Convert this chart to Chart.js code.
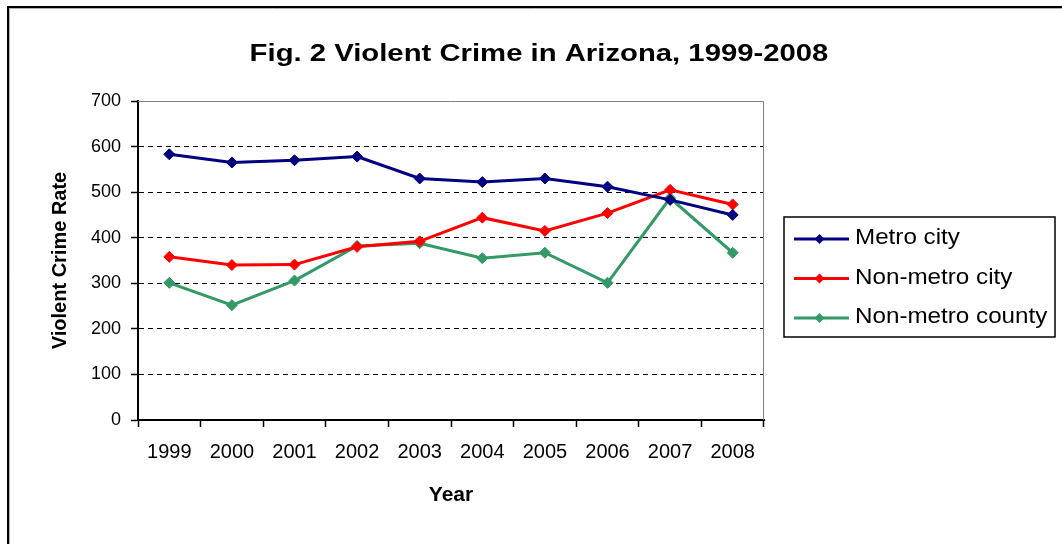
<!DOCTYPE html>
<html>
<head>
<meta charset="utf-8">
<script src="https://cdn.jsdelivr.net/npm/chart.js@4.4.1/dist/chart.umd.min.js"></script>
<style>
  html, body { margin: 0; padding: 0; background: #fff; }
  canvas { display: block; }
</style>
</head>
<body>
<canvas id="chart" width="1062" height="544"></canvas>
<script>
// Violent crime rate by area type, Arizona
const years = ['1999', '2000', '2001', '2002', '2003', '2004', '2005', '2006', '2007', '2008'];
const metroCity      = [583, 565, 570, 578, 530, 522, 530, 512, 483, 450];
const nonMetroCity   = [358, 340, 341, 380, 392, 444, 415, 454, 505, 473];
const nonMetroCounty = [301, 252, 306, 382, 388, 355, 367, 301, 487, 367];
const seriesNames  = ['Metro city', 'Non-metro city', 'Non-metro county'];
const seriesColors = ['#000080', '#FF0000', '#339966'];
const yMin = 0, yMax = 700, yStep = 100;
const chartTitle = 'Fig. 2 Violent Crime in Arizona, 1999-2008';
const xTitle = 'Year';
const yTitle = 'Violent Crime Rate';

const FONT = "'Liberation Sans', Arial, sans-serif";

function stretchedText(ctx, text, x, y, sx, align, baseline) {
  ctx.save();
  ctx.translate(x, y);
  ctx.scale(sx, 1);
  ctx.textAlign = align;
  ctx.textBaseline = baseline;
  ctx.fillText(text, 0, 0);
  ctx.restore();
}

function diamond(ctx, x, y, r, color) {
  ctx.beginPath();
  ctx.moveTo(x - r, y);
  ctx.lineTo(x, y - r);
  ctx.lineTo(x + r, y);
  ctx.lineTo(x, y + r);
  ctx.closePath();
  ctx.fillStyle = color;
  ctx.fill();
}

// Page frame, plot border, title and boxed legend
const decorations = {
  id: 'decorations',
  beforeDraw(chart) {
    const ctx = chart.ctx;
    ctx.save();
    ctx.fillStyle = '#fff';
    ctx.fillRect(0, 0, chart.width, chart.height);
    // outer frame
    ctx.strokeStyle = '#000';
    ctx.lineWidth = 2;
    ctx.beginPath();
    ctx.moveTo(8, chart.height);
    ctx.lineTo(8, 7);
    ctx.lineTo(chart.width, 7);
    ctx.stroke();
    ctx.strokeStyle = '#b0b0b0';
    ctx.lineWidth = 1;
    ctx.beginPath();
    ctx.moveTo(9.5, chart.height);
    ctx.lineTo(9.5, 8.5);
    ctx.lineTo(chart.width, 8.5);
    ctx.stroke();
    ctx.restore();
  },
  beforeDatasetsDraw(chart) {
    const ctx = chart.ctx;
    const a = chart.chartArea;
    ctx.save();
    ctx.strokeStyle = '#808080';
    ctx.lineWidth = 1;
    ctx.beginPath();
    ctx.moveTo(a.left, a.top + 0.5);
    ctx.lineTo(a.right - 0.5, a.top + 0.5);
    ctx.lineTo(a.right - 0.5, a.bottom);
    ctx.stroke();
    ctx.restore();
  },
  afterDraw(chart) {
    const ctx = chart.ctx;
    ctx.save();
    // title
    ctx.fillStyle = '#000';
    ctx.font = 'bold 24px ' + FONT;
    stretchedText(ctx, chartTitle, 539, 61, 1.22, 'center', 'alphabetic');

    // legend
    const bx = 784, by = 217, bw = 271, bh = 120;
    ctx.strokeStyle = '#000';
    ctx.lineWidth = 1.5;
    ctx.strokeRect(bx, by, bw, bh);
    ctx.font = '22px ' + FONT;
    chart.data.datasets.forEach((ds, i) => {
      const y = 239 + i * 39.5;
      ctx.strokeStyle = ds.borderColor;
      ctx.lineWidth = 3;
      ctx.beginPath();
      ctx.moveTo(794, y);
      ctx.lineTo(849, y);
      ctx.stroke();
      diamond(ctx, 819.5, y, 5, ds.borderColor);
      ctx.fillStyle = '#000';
      stretchedText(ctx, ds.label, 855, y - 1, 1.1, 'left', 'middle');
    });
    ctx.restore();
  }
};

const seriesValues = [metroCity, nonMetroCity, nonMetroCounty];

new Chart(document.getElementById('chart'), {
  type: 'line',
  data: {
    labels: years,
    datasets: seriesValues.map((vals, i) => ({
      label: seriesNames[i],
      data: vals,
      borderColor: seriesColors[i],
      backgroundColor: seriesColors[i],
      pointBackgroundColor: seriesColors[i],
      pointBorderColor: seriesColors[i],
      borderWidth: 3,
      tension: 0,
      pointStyle: 'rectRot',
      pointRadius: 5.5,
      pointBorderWidth: 1,
      fill: false
    }))
  },
  options: {
    responsive: false,
    animation: false,
    devicePixelRatio: 1,
    layout: { padding: { top: 101, right: 298, left: 0, bottom: 0 } },
    plugins: {
      legend: { display: false },
      title: { display: false },
      tooltip: { enabled: false }
    },
    scales: {
      x: {
        type: 'category',
        offset: true,
        afterFit(scale) { scale.height = 124; },
        grid: {
          offset: true,
          drawOnChartArea: false,
          drawTicks: true,
          tickLength: 7,
          tickColor: '#000',
          tickWidth: 1.5
        },
        border: { display: true, color: '#000', width: 2 },
        ticks: {
          color: '#000',
          font: { family: FONT, size: 20 },
          padding: 13,
          maxRotation: 0,
          autoSkip: false
        },
        title: {
          display: true,
          text: xTitle,
          color: '#000',
          font: { family: FONT, size: 21, weight: 'bold' },
          padding: { top: 36, bottom: 36 }
        }
      },
      y: {
        min: yMin,
        max: yMax,
        afterFit(scale) { scale.width = 138; },
        grid: {
          color: (c) => (c.tick && (c.tick.value === yMin || c.tick.value === yMax)) ? 'rgba(0,0,0,0)' : '#000',
          lineWidth: 1,
          drawTicks: true,
          tickLength: 7,
          tickColor: '#000',
          tickWidth: 1.5
        },
        border: { display: true, color: '#000', width: 2, dash: [5, 4] },
        ticks: {
          stepSize: yStep,
          color: '#000',
          font: { family: FONT, size: 18 },
          padding: 10
        },
        title: {
          display: true,
          text: yTitle,
          color: '#000',
          font: { family: FONT, size: 20, weight: 'bold' },
          padding: { top: 48, bottom: 48 }
        }
      }
    }
  },
  plugins: [decorations]
});
</script>
</body>
</html>
